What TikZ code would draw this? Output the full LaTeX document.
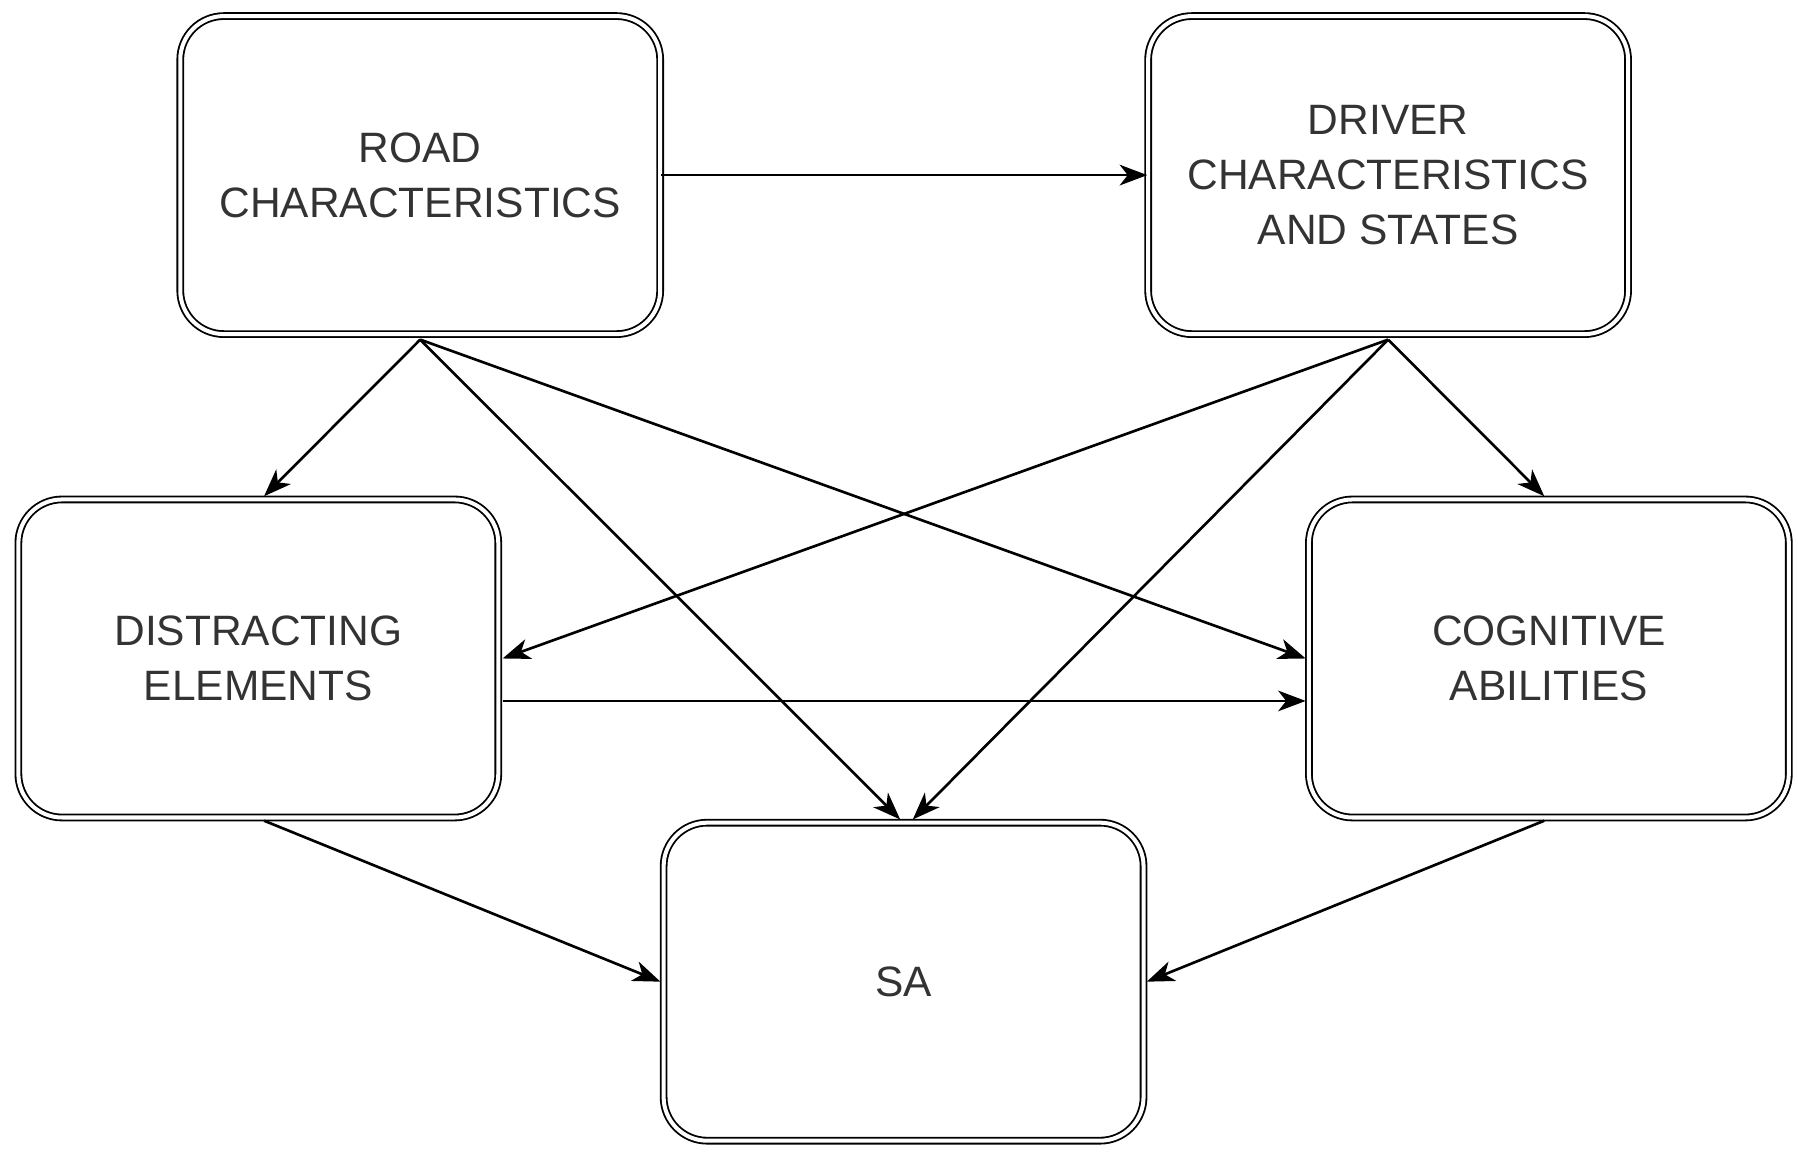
\documentclass[tikz,border=0pt]{standalone}
\usepackage{fontspec}
\setmainfont{Liberation Sans}
\usetikzlibrary{arrows.meta,calc}
\begin{document}
\begin{tikzpicture}[x=1pt,y=-1pt,
 box/.style={draw=black,line width=1.6pt,double=white,double distance=3.5pt,rounded corners=38pt,minimum width=418pt,minimum height=277pt,align=center,font=\fontsize{37}{48}\selectfont,text=black!80,inner sep=0pt},
 arr/.style={line width=2.3pt,-{Stealth[length=24pt,width=18pt,inset=7pt]}}]
\useasboundingbox (0,0) rectangle (1566,1018);
\node[box] (road) at (366,152.5) {ROAD\\CHARACTERISTICS};
\node[box] (drv) at (1209,152.5) {DRIVER\\CHARACTERISTICS\\AND STATES};
\node[box] (dist) at (225,573.5) {DISTRACTING\\ELEMENTS};
\node[box] (cog) at (1349,573.5) {COGNITIVE\\ABILITIES};
\node[box] (sa) at (787,855) {SA};
\draw[arr] (road.east) -- (drv.west);
\draw[arr] ($(road.south)+(0,4)$) -- ($(dist.north)+(5,-2)$);
\draw[arr] ($(road.south)+(0,4)$) -- ($(sa.north)+(-3,-2)$);
\draw[arr] ($(road.south)+(0,4)$) -- ($(cog.west)+(-2,0)$);
\draw[arr] ($(drv.south)+(0,4)$) -- ($(dist.east)+(3,0)$);
\draw[arr] ($(drv.south)+(0,4)$) -- ($(sa.north)+(8,-2)$);
\draw[arr] ($(drv.south)+(0,4)$) -- ($(cog.north)+(-4,-2)$);
\draw[arr] ($(dist.east)+(3,37)$) -- ($(cog.west)+(-2,37)$);
\draw[arr] ($(dist.south)+(5,2)$) -- ($(sa.west)+(-2,0)$);
\draw[arr] ($(cog.south)+(-4,2)$) -- ($(sa.east)+(2,0)$);
\end{tikzpicture}
\end{document}
